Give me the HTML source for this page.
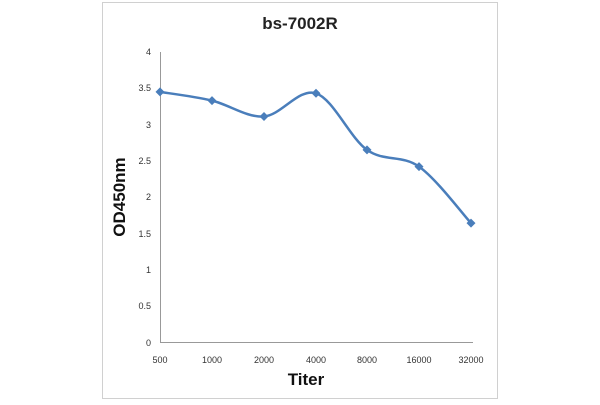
<!DOCTYPE html>
<html><head><meta charset="utf-8"><style>body{margin:0;background:#fff}</style></head><body>
<svg width="600" height="400" xmlns="http://www.w3.org/2000/svg" font-family="Liberation Sans, sans-serif">
<rect x="0" y="0" width="600" height="400" fill="#fff"/>
<rect x="102.5" y="2.5" width="395" height="396" fill="none" stroke="#d0d0d0" stroke-width="1"/>
<text x="300" y="29" text-anchor="middle" font-size="17" font-weight="bold" fill="#222">bs-7002R</text>
<line x1="160.5" y1="52" x2="160.5" y2="342" stroke="#999" stroke-width="1"/>
<line x1="160" y1="342.5" x2="473" y2="342.5" stroke="#999" stroke-width="1"/>
<g font-size="9" fill="#333" text-anchor="end">
<text x="151" y="55">4</text><text x="151" y="91">3.5</text><text x="151" y="128">3</text><text x="151" y="164">2.5</text><text x="151" y="200">2</text><text x="151" y="237">1.5</text><text x="151" y="273">1</text><text x="151" y="309">0.5</text><text x="151" y="346">0</text>
</g>
<g font-size="9" fill="#333" text-anchor="middle">
<text x="160" y="363">500</text><text x="212" y="363">1000</text><text x="264" y="363">2000</text><text x="316" y="363">4000</text><text x="367" y="363">8000</text><text x="419" y="363">16000</text><text x="471" y="363">32000</text>
</g>
<text x="306" y="385" text-anchor="middle" font-size="17" font-weight="bold" fill="#111">Titer</text>
<text transform="translate(125,197) rotate(-90)" text-anchor="middle" font-size="17" font-weight="bold" fill="#111">OD450nm</text>
<path fill="none" stroke="#4a7ebb" stroke-width="2.5" d="M160,91.9 C168.7,93.3 194.7,96.5 212,100.6 C229.3,104.7 246.7,117.7 264,116.5 C281.3,115.3 298.8,87.7 316,93.3 C333.2,98.9 349.8,137.7 367,149.9 C384.2,162.1 401.7,154.4 419,166.6 C436.3,178.8 462.3,213.7 471,223.1"/>
<g fill="#4a7ebb">
<polygon points="160,87.4 164.5,91.9 160,96.4 155.5,91.9"/>
<polygon points="212,96.1 216.5,100.6 212,105.1 207.5,100.6"/>
<polygon points="264,112 268.5,116.5 264,121 259.5,116.5"/>
<polygon points="316,88.8 320.5,93.3 316,97.8 311.5,93.3"/>
<polygon points="367,145.4 371.5,149.9 367,154.4 362.5,149.9"/>
<polygon points="419,162.1 423.5,166.6 419,171.1 414.5,166.6"/>
<polygon points="471,218.6 475.5,223.1 471,227.6 466.5,223.1"/>
</g>
</svg>
</body></html>
